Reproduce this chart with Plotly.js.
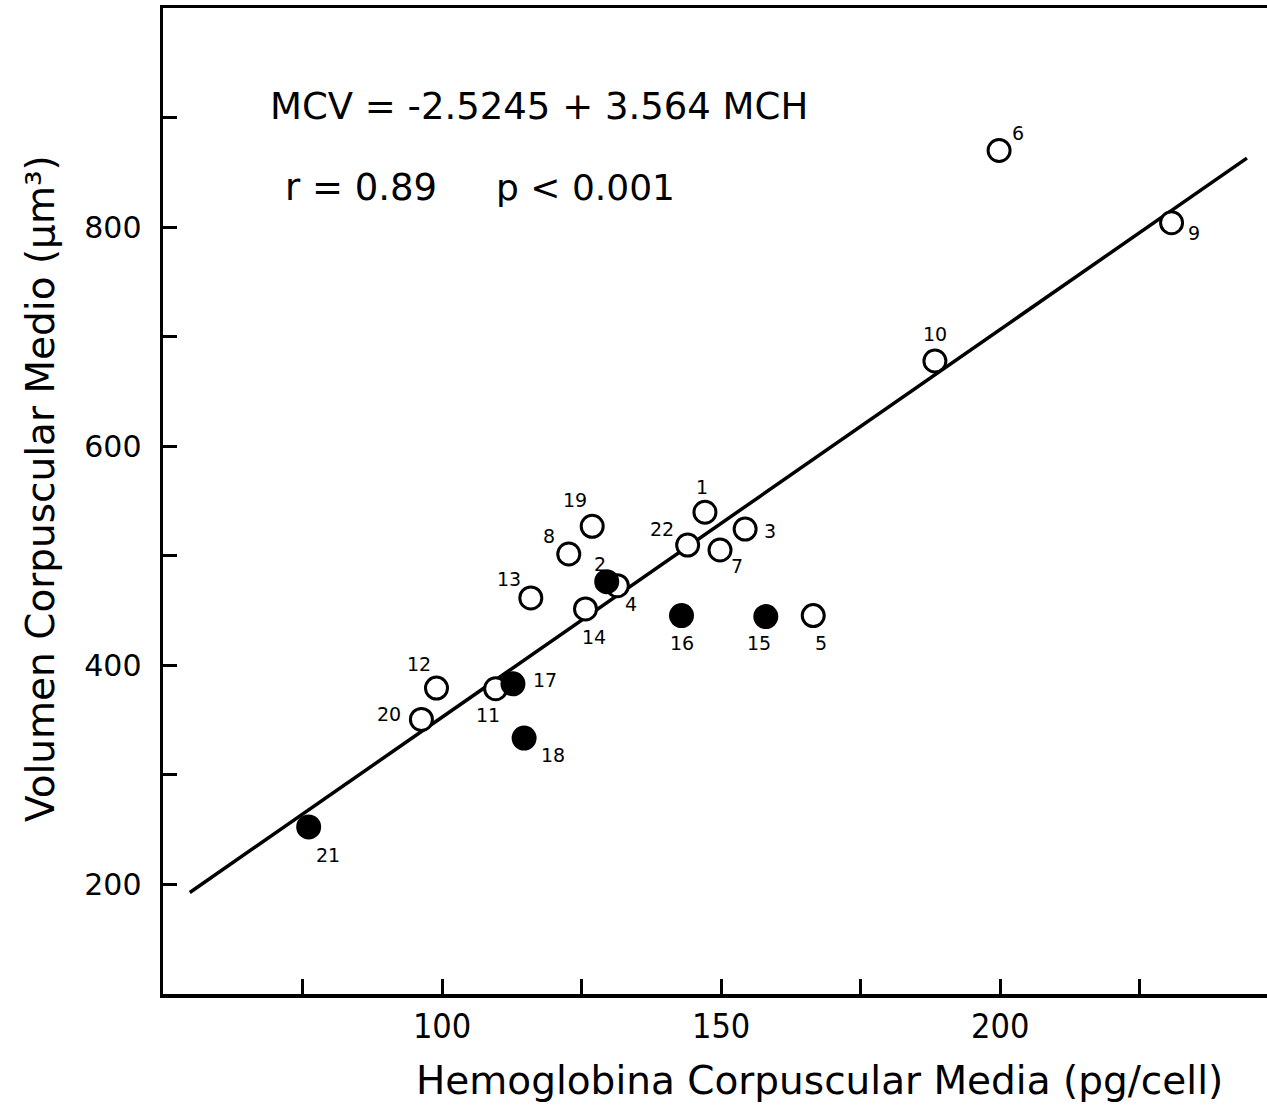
<!DOCTYPE html>
<html>
<head>
<meta charset="utf-8">
<script src="https://cdn.plot.ly/plotly-3.0.1.min.js"></script>
<style>
  html, body { margin: 0; padding: 0; background: #fff; }
  #chart { width: 1267px; height: 1107px; }
</style>
</head>
<body>
<div id="chart"></div>
<script>
// Open circles
const openIds = ["1","3","4","5","6","7","8","9","10","11","12","13","14","19","20","22"];
const openX   = [147.1, 154.3, 131.4, 166.5, 199.8, 149.8, 122.7, 230.7, 188.3, 109.6, 99.0, 115.9, 125.7, 126.9, 96.3, 144.0];
const openY   = [539.7, 524.4, 472.7, 445.4, 869.9, 505.3, 501.6, 804.0, 677.8, 378.6, 379.2, 461.5, 451.5, 526.9, 350.6, 509.8];

// Filled circles
const filledIds = ["2","15","16","17","18","21"];
const filledX   = [129.5, 158.0, 142.9, 112.7, 114.7, 76.1];
const filledY   = [476.4, 444.5, 445.4, 383.1, 333.6, 252.5];

// Regression line (end points)
const lineX = [54.8, 244.2];
const lineY = [192.7, 863.0];

const equationText = "MCV = -2.5245 + 3.564 MCH";
const rText = "r = 0.89";
const pText = "p < 0.001";

const xTickVals = [75, 100, 125, 150, 175, 200, 225];
const xTickText = ["", "100", "", "150", "", "200", ""];
const yTickVals = [200, 300, 400, 500, 600, 700, 800, 900];
const yTickText = ["200", "", "400", "", "600", "", "800", ""];

const xTitle = "Hemoglobina Corpuscular Media (pg/cell)";
const yTitle = "Volumen Corpuscular Medio (μm³)";

// label offsets in pixels (dx right, dy down) relative to each point
const labelOffsets = {
  "1": [-3, -25], "2": [-7, -18], "3": [25, 2], "4": [14, 18], "5": [8, 27],
  "6": [19, -18], "7": [17, 16], "8": [-20, -18], "9": [22, 10], "10": [0, -27],
  "11": [-8, 26], "12": [-17, -24], "13": [-22, -19], "14": [8, 28], "15": [-7, 26],
  "16": [0, 27], "17": [32, -4], "18": [29, 17], "19": [-17, -26], "20": [-32, -5],
  "21": [19, 28], "22": [-26, -16]
};

const BASE = "DejaVu Sans, Liberation Sans, sans-serif";

const traces = [
  {
    x: lineX, y: lineY, mode: "lines", type: "scatter",
    line: { color: "#000", width: 3.5 }, hoverinfo: "skip", showlegend: false
  },
  {
    x: openX, y: openY, mode: "markers", type: "scatter",
    marker: { symbol: "circle", size: 22, color: "#fff", line: { color: "#000", width: 3 } },
    showlegend: false
  },
  {
    x: filledX, y: filledY, mode: "markers", type: "scatter",
    marker: { symbol: "circle", size: 22, color: "#000", line: { color: "#000", width: 3 } },
    showlegend: false
  }
];

const annotations = [];
function addLabels(ids, xs, ys) {
  ids.forEach((id, i) => {
    const off = labelOffsets[id] || [0, -25];
    annotations.push({
      x: xs[i], y: ys[i], xref: "x", yref: "y", text: id, showarrow: false,
      xshift: off[0], yshift: -off[1], xanchor: "center", yanchor: "middle",
      font: { family: BASE, size: 19, color: "#000" }
    });
  });
}
addLabels(openIds, openX, openY);
addLabels(filledIds, filledX, filledY);

annotations.push(
  { xref: "paper", yref: "paper", x: (268 - 163) / 1104, y: 1 - (107 - 8) / 986,
    xanchor: "left", yanchor: "middle", showarrow: false, text: equationText,
    font: { family: BASE, size: 37, color: "#000" } },
  { xref: "paper", yref: "paper", x: (283 - 163) / 1104, y: 1 - (187 - 8) / 986,
    xanchor: "left", yanchor: "middle", showarrow: false, text: rText,
    font: { family: BASE, size: 37, color: "#000" } },
  { xref: "paper", yref: "paper", x: (494 - 163) / 1104, y: 1 - (187 - 8) / 986,
    xanchor: "left", yanchor: "middle", showarrow: false, text: pText,
    font: { family: BASE, size: 36, color: "#000" } },
  { xref: "paper", yref: "paper", x: (819 - 163) / 1104, y: 0, yshift: -86,
    xanchor: "center", yanchor: "middle", showarrow: false, text: xTitle,
    font: { family: BASE, size: 39, color: "#000" } },
  { xref: "paper", yref: "paper", x: 0, xshift: -123, y: 1 - (489 - 8) / 986,
    xanchor: "center", yanchor: "middle", showarrow: false, text: yTitle, textangle: -90,
    font: { family: BASE, size: 39, color: "#000" } }
);

const layout = {
  width: 1267, height: 1107,
  margin: { l: 163, r: 0, t: 8, b: 113 },
  paper_bgcolor: "#fff", plot_bgcolor: "#fff",
  showlegend: false,
  xaxis: {
    range: [50, 247.8], showgrid: false, zeroline: false,
    showline: true, linecolor: "#000", linewidth: 3.5, mirror: true,
    ticks: "inside", ticklen: 15, tickwidth: 3, tickcolor: "#000",
    tickmode: "array", tickvals: xTickVals, ticktext: xTickText,
    ticklabelstandoff: 0,
    tickfont: { family: "Liberation Sans Narrow, DejaVu Sans Condensed, Arial Narrow, sans-serif", size: 34, color: "#000" }
  },
  yaxis: {
    range: [100, 1000], showgrid: false, zeroline: false,
    showline: true, linecolor: "#000", linewidth: 3.5, mirror: false,
    ticks: "inside", ticklen: 14, tickwidth: 3, tickcolor: "#000",
    tickmode: "array", tickvals: yTickVals, ticktext: yTickText,
    ticklabelstandoff: 12,
    tickfont: { family: BASE, size: 30, color: "#000" }
  },
  annotations: annotations
};

Plotly.newPlot("chart", traces, layout, { staticPlot: true, displayModeBar: false });
</script>
</body>
</html>
